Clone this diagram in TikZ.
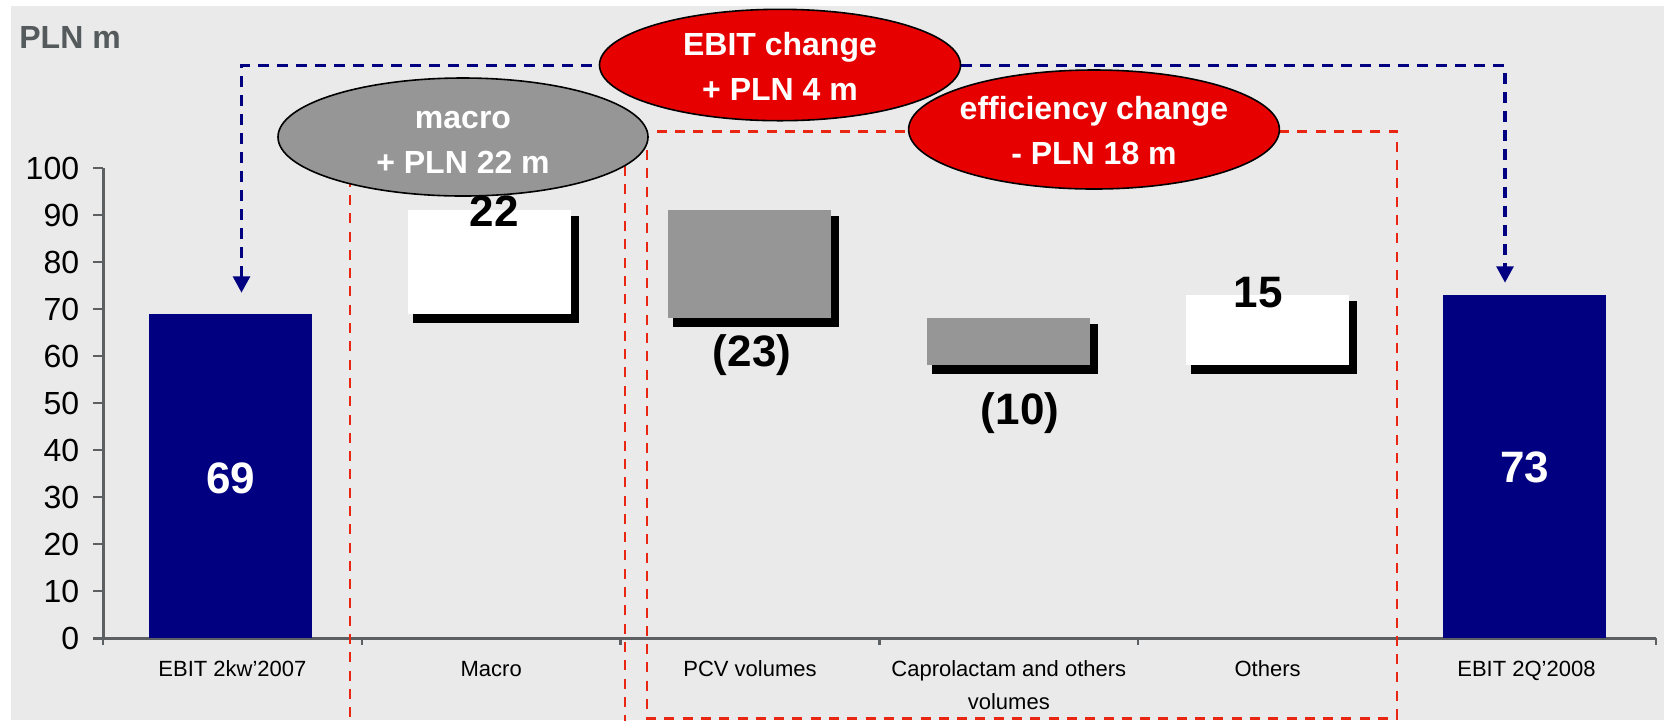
\documentclass[tikz,border=0pt]{standalone}
\usepackage{fontspec}
\setmainfont{Liberation Sans}
\usetikzlibrary{arrows.meta,shapes.geometric}
\definecolor{bg}{RGB}{234,234,234}
\definecolor{navy}{RGB}{0,0,128}
\definecolor{boxgray}{RGB}{150,150,150}
\definecolor{ellred}{RGB}{230,0,0}
\definecolor{dashred}{RGB}{232,38,18}
\definecolor{axisgray}{RGB}{92,96,98}
\definecolor{plngray}{RGB}{85,90,92}
\newcommand\deltabox[5]{% left, top, right, bottom, fill colour
  \fill[black] (#1+5,#2+6) rectangle (#3+8,#4+9);
  \fill[#5] (#1,#2) rectangle (#3,#4);}
\begin{document}
\begin{tikzpicture}[x=0.5pt,y=-0.5pt,
  axisline/.style={draw=axisgray, line width=1.5pt},
  tickline/.style={draw=axisgray, line width=1.2pt},
  ticklab/.style={anchor=east, inner sep=0pt, font=\fontsize{16}{16}\selectfont},
  catlab/.style={anchor=base, inner sep=0pt, font=\fontsize{11}{16.3}\selectfont},
  datalab/.style={anchor=base, inner sep=0pt, font=\fontsize{22}{22}\selectfont\bfseries},
  ell/.style={ellipse, draw=black, line width=0.8pt, inner sep=0pt},
  elltext/.style={anchor=base, inner sep=0pt, text=white, font=\fontsize{16}{22.5}\selectfont\bfseries},
  reddash/.style={draw=dashred, line width=1.25pt, dash pattern=on 5pt off 4.15pt},
  bluedash/.style={draw=navy, line width=1.7pt, dash pattern=on 5.5pt off 4pt},
  tipstyle/.tip={Triangle[width=8.4pt,length=8.2pt]}
]
\useasboundingbox (0,0) rectangle (1664,720);
\clip (0,0) rectangle (1664,720);
\fill[bg] (10.6,6) rectangle (1664,720);

\node[anchor=base west, inner sep=0pt, text=plngray, font=\fontsize{16}{16}\selectfont\bfseries] (unit) at (19,48) {PLN m};

% axes
\draw[axisline] (103,168) -- (103,638);
\draw[axisline] (93,638) -- (1656,638);
\foreach \v in {0,10,...,100}{
  \draw[tickline] (93,{638-4.7*\v}) -- (103,{638-4.7*\v});
  \node[ticklab] (yl\v) at (79.5,{638-4.7*\v}) {\v};
}
\foreach \i in {0,...,6}{
  \draw[tickline] ({103+258.8*\i},638) -- ({103+258.8*\i},645);
}

% category labels
\node[catlab] (c1) at (232.4,676.7) {EBIT 2kw'2007};
\node[catlab] (c2) at (491.2,676.7) {Macro};
\node[catlab] (c3) at (750,676.7) {PCV volumes};
\node[catlab] (c4) at (1008.8,676.7) {\begin{tabular}[t]{@{}c@{}}Caprolactam and others\\volumes\end{tabular}};
\node[catlab] (c5) at (1267.6,676.7) {Others};
\node[catlab] (c6) at (1526.4,676.7) {EBIT 2Q'2008};

% bars
\fill[navy] (149,313.7) rectangle (312,638);
\fill[navy] (1443,294.9) rectangle (1606,638);
\deltabox{408.2}{210.3}{571.2}{313.7}{white}
\deltabox{667.5}{210.3}{830.5}{318.4}{boxgray}
\deltabox{927}{318.4}{1090}{365.4}{boxgray}
\deltabox{1185.5}{294.9}{1348.5}{365.4}{white}

% red dashed frames
\draw[reddash] (350,140) rectangle (625,780);
\draw[reddash] (647,131.7) rectangle (1397,718.3);

% blue dashed connector
\coordinate (arrL) at (241.5,292.7);
\coordinate (arrR) at (1505,282.7);
\coordinate (arrTop) at (0,65.7);
\draw[bluedash, tipstyle-tipstyle] (arrL) -- (arrL |- arrTop) -- (arrR |- arrTop) -- (arrR);

% ellipses
\node[ell, fill=boxgray, minimum width=185pt, minimum height=59pt] (macroE) at (463,137) {};
\node[ell, fill=ellred, minimum width=180.5pt, minimum height=55.7pt] (ebitE) at (780,65) {};
\node[ell, fill=ellred, minimum width=185.4pt, minimum height=59.5pt] (effE) at (1094,129.5) {};
\node[elltext] (macroT) at (463,128.3) {\begin{tabular}[t]{@{}c@{}}macro\\+ PLN 22 m\end{tabular}};
\node[elltext] (ebitT) at (780,55) {\begin{tabular}[t]{@{}c@{}}EBIT change\\+ PLN 4 m\end{tabular}};
\node[elltext] (effT) at (1094,119) {\begin{tabular}[t]{@{}c@{}}efficiency change\\- PLN 18 m\end{tabular}};

% data labels
\node[datalab, text=white] (v1) at (231,493.3) {69};
\node[datalab] (v2) at (494,226) {22};
\node[datalab] (v3) at (752,366) {(23)};
\node[datalab] (v4) at (1020,424) {(10)};
\node[datalab] (v5) at (1258,307) {15};
\node[datalab, text=white] (v6) at (1524.5,482) {73};
\end{tikzpicture}
\end{document}
